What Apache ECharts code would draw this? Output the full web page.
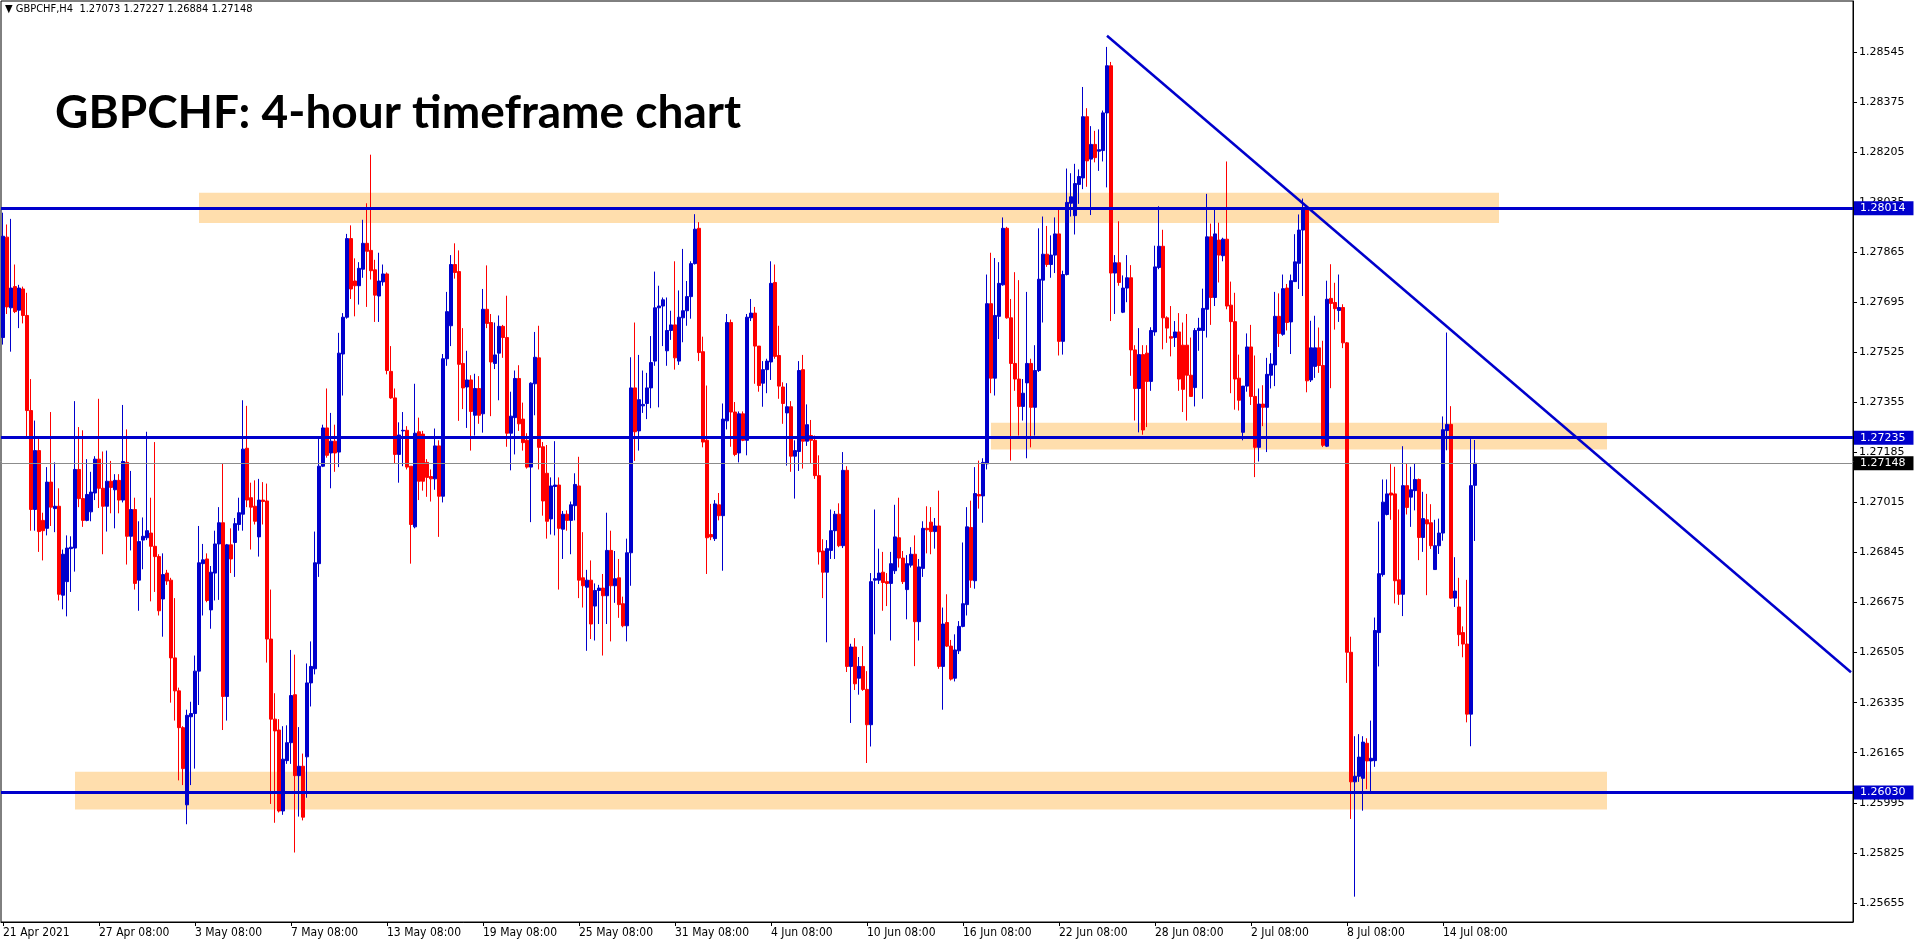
<!DOCTYPE html>
<html><head><meta charset="utf-8">
<script src="https://cdn.jsdelivr.net/npm/echarts@6/dist/echarts.min.js"></script>
<style>html,body{margin:0;padding:0;background:#fff;overflow:hidden}#c{width:1916px;height:946px}</style>
</head><body><div id="c"></div>
<script>
const opens = [
1.27575,1.27916,1.27676,1.27748,1.27668,1.2774,1.2765,1.27327,1.26991,1.27191,
1.26954,1.26927,1.27084,1.26994,1.27002,1.267,1.26746,1.26858,1.2686,1.27127,
1.27028,1.26954,1.26983,1.27047,1.27162,1.27063,1.27002,1.27087,1.27058,1.2709,
1.27023,1.27151,1.269,1.26991,1.26751,1.26887,1.26895,1.26911,1.26866,1.26831,
1.26687,1.26775,1.26751,1.26487,1.26375,1.2625,1.25988,1.26287,1.26298,1.26442,
1.26807,1.26823,1.2665,1.26775,1.26874,1.26946,1.26356,1.26871,1.26879,1.2694,
1.26975,1.27199,1.27031,1.27002,1.26898,1.27023,1.2702,1.26551,1.26279,1.26242,
1.25967,1.26138,1.26199,1.26362,1.26087,1.26119,1.26151,1.26402,1.2645,1.26807,
1.27138,1.27268,1.27183,1.27223,1.27186,1.27519,1.27644,1.27911,1.27767,1.27751,
1.27807,1.27895,1.27871,1.27805,1.27716,1.27764,1.27791,1.2746,1.2737,1.27178,
1.27258,1.2726,1.27138,1.26932,1.27255,1.27247,1.27151,1.27103,1.27095,1.27207,
1.27036,1.27503,1.27615,1.27823,1.27799,1.27487,1.27407,1.27431,1.27311,1.27402,
1.27316,1.27671,1.27626,1.27487,1.27522,1.27613,1.27575,1.2725,1.27303,1.27436,
1.27298,1.27226,1.27135,1.27418,1.27506,1.27204,1.27114,1.26959,1.27069,1.27074,
1.26924,1.26975,1.26954,1.27004,1.27071,1.26759,1.26727,1.26751,1.26663,1.26716,
1.26724,1.26698,1.26852,1.26732,1.26759,1.26671,1.26596,1.26844,1.27404,1.27258,
1.27343,1.27351,1.27404,1.27495,1.27676,1.27682,1.2753,1.27599,1.27618,1.27495,
1.27642,1.27666,1.27714,1.27826,1.27946,1.27527,1.27226,1.26906,1.26892,1.27007,
1.2697,1.27292,1.27626,1.27322,1.27183,1.27316,1.27226,1.27642,1.27658,1.27546,
1.2742,1.27466,1.27492,1.27762,1.27514,1.27407,1.27319,1.2734,1.27172,1.27188,
1.27466,1.27223,1.27242,1.27226,1.27106,1.2685,1.26778,1.26852,1.26919,1.26975,
1.26868,1.27124,1.26458,1.26524,1.26418,1.26458,1.2638,1.2626,1.26751,1.26751,
1.26778,1.26746,1.2674,1.26783,1.26895,1.26826,1.26719,1.26802,1.26839,1.2661,
1.26791,1.26927,1.26948,1.26916,1.26935,1.26458,1.26607,1.26527,1.26418,1.26511,
1.26594,1.26668,1.2693,1.26749,1.27042,1.27037,1.27146,1.2769,1.27437,1.27647,
1.27754,1.27946,1.27642,1.27487,1.27434,1.27341,1.27421,1.27487,1.27338,1.27463,
1.2777,1.27858,1.27823,1.27855,1.27927,1.27562,1.27789,1.28031,1.27989,1.28095,
1.28117,1.28325,1.28181,1.28231,1.28208,1.2821,1.28338,1.28498,1.27794,1.27829,
1.27661,1.27743,1.27778,1.27533,1.27402,1.27517,1.27522,1.27426,1.27594,1.27813,
1.27885,1.27642,1.27578,1.27575,1.27594,1.27549,1.27549,1.27447,1.27405,1.27599,
1.27599,1.27671,1.27917,1.27711,1.27906,1.27853,1.27909,1.27685,1.27629,1.27437,
1.27253,1.2741,1.27543,1.27375,1.27202,1.27349,1.27338,1.27447,1.27482,1.27647,
1.27586,1.27743,1.27628,1.27765,1.27827,1.2794,1.28011,1.27431,1.27477,1.2754,
1.2748,1.27206,1.27708,1.27694,1.27667,1.27677,1.27557,1.26506,1.26066,1.26085,
1.26078,1.26197,1.26137,1.26138,1.26573,1.2677,1.26974,1.27047,1.27044,1.26752,
1.26703,1.27072,1.27033,1.27055,1.27093,1.26896,1.26956,1.26946,1.26787,1.26868,
1.26911,1.27259,1.2728,1.2669,1.2666,1.26573,1.26534,1.26296,1.27073];
const closes = [
1.27919,1.27679,1.27743,1.27663,1.27743,1.2765,1.27327,1.26991,1.27191,1.26916,
1.26919,1.27084,1.26999,1.27002,1.26703,1.26839,1.2686,1.26863,1.27127,1.27028,
1.26954,1.27042,1.2705,1.27162,1.27063,1.27002,1.27087,1.27066,1.2709,1.27023,
1.27154,1.269,1.26991,1.2674,1.26882,1.269,1.26919,1.26866,1.26831,1.26647,
1.2677,1.26748,1.26487,1.26375,1.2625,1.26111,1.26292,1.26298,1.26442,1.2681,
1.2682,1.26682,1.26778,1.26874,1.26946,1.26356,1.26871,1.26823,1.26943,1.2698,
1.27196,1.27023,1.26999,1.26951,1.27023,1.27018,1.26551,1.26279,1.26239,1.25967,
1.26143,1.26199,1.26359,1.26087,1.26119,1.25946,1.26402,1.26458,1.2681,1.27138,
1.27268,1.27175,1.27223,1.27183,1.27522,1.27644,1.27911,1.2774,1.27751,1.2781,
1.27895,1.27868,1.27802,1.27719,1.27767,1.27791,1.27463,1.2737,1.27178,1.27244,
1.2726,1.27135,1.2694,1.2725,1.27087,1.27087,1.271,1.27095,1.27207,1.27036,
1.27503,1.27663,1.27823,1.27796,1.27484,1.27404,1.27431,1.27324,1.27402,1.27311,
1.27671,1.27623,1.27492,1.27516,1.27613,1.27575,1.2725,1.27308,1.27436,1.27282,
1.27218,1.27135,1.2742,1.27508,1.27202,1.2702,1.26951,1.27071,1.27074,1.26927,
1.26975,1.26954,1.27007,1.27076,1.26751,1.26732,1.26751,1.26602,1.26716,1.26724,
1.26698,1.26852,1.26732,1.26756,1.26668,1.26596,1.26844,1.27404,1.27255,1.27364,
1.27348,1.27404,1.2749,1.27676,1.27682,1.27703,1.27599,1.27618,1.27506,1.27644,
1.27666,1.27714,1.27826,1.27943,1.27524,1.2722,1.26895,1.26898,1.2701,1.2697,
1.27298,1.27626,1.27322,1.27178,1.27316,1.27226,1.27644,1.27658,1.27546,1.27412,
1.27466,1.27495,1.27759,1.27511,1.2741,1.27351,1.2734,1.27172,1.27191,1.27463,
1.27223,1.27279,1.27226,1.27106,1.26847,1.26778,1.26858,1.26919,1.26975,1.26868,
1.27124,1.26458,1.26524,1.26399,1.26458,1.2638,1.2626,1.26746,1.26756,1.26775,
1.26743,1.2674,1.26807,1.26898,1.26826,1.26746,1.26807,1.26839,1.2661,1.26796,
1.26927,1.26922,1.26916,1.26935,1.26458,1.26602,1.26527,1.26415,1.26514,1.26594,
1.26671,1.26932,1.26751,1.27045,1.27037,1.27151,1.2769,1.27437,1.2765,1.27759,
1.27946,1.27642,1.27487,1.27434,1.27341,1.27386,1.27487,1.27338,1.27463,1.27773,
1.27858,1.27823,1.27855,1.27927,1.27562,1.27789,1.28034,1.28053,1.28098,1.28122,
1.28325,1.28175,1.28231,1.28186,1.28213,1.28338,1.28498,1.27794,1.27829,1.27762,
1.27743,1.27778,1.27533,1.27402,1.27517,1.27261,1.27426,1.27599,1.27815,1.27885,
1.27642,1.27607,1.27573,1.27594,1.27434,1.27399,1.27447,1.27375,1.27599,1.27607,
1.27674,1.27917,1.27711,1.27927,1.27855,1.27909,1.27682,1.27629,1.27434,1.27362,
1.2741,1.27543,1.27375,1.27202,1.27349,1.27338,1.2745,1.27485,1.27647,1.27589,
1.27741,1.27626,1.27768,1.27832,1.2794,1.28014,1.27428,1.2754,1.2754,1.2748,
1.27209,1.27705,1.27691,1.27673,1.27677,1.27557,1.26506,1.26066,1.26085,1.2615,
1.26201,1.26137,1.26146,1.2658,1.26773,1.27016,1.27044,1.2704,1.26749,1.26703,
1.27072,1.26998,1.27058,1.27093,1.26896,1.2696,1.26942,1.26868,1.26868,1.26911,
1.27262,1.2728,1.2669,1.26714,1.26566,1.26534,1.26296,1.27072,1.27148];
const lows = [
1.27551,1.27655,1.27527,1.27658,1.27607,1.27623,1.27239,1.26919,1.26919,1.26847,
1.26818,1.26903,1.26935,1.26914,1.26682,1.26652,1.26628,1.26711,1.2678,1.26999,
1.26932,1.26951,1.26951,1.27023,1.26996,1.26839,1.26916,1.26978,1.26927,1.26978,
1.27015,1.26804,1.26852,1.26719,1.26647,1.26788,1.26887,1.26679,1.26711,1.26631,
1.26559,1.26735,1.26335,1.26274,1.26071,1.26055,1.25922,1.26055,1.26111,1.26327,
1.26631,1.26676,1.26586,1.26682,1.26684,1.26242,1.26274,1.26775,1.26762,1.26919,
1.26919,1.26999,1.26855,1.2694,1.26831,1.2694,1.26471,1.25991,1.25927,1.25962,
1.25954,1.26127,1.26127,1.25826,1.25948,1.25935,1.26012,1.26322,1.26431,1.26762,
1.27135,1.27167,1.27063,1.27119,1.27135,1.27378,1.27639,1.27706,1.27647,1.27687,
1.27778,1.27679,1.27772,1.27628,1.27628,1.27751,1.2745,1.27367,1.27148,1.27082,
1.27138,1.27127,1.26807,1.26927,1.27023,1.27055,1.27034,1.27018,1.27058,1.26898,
1.27015,1.27479,1.27546,1.27775,1.27292,1.27332,1.27268,1.27191,1.27242,1.27282,
1.27252,1.27607,1.27308,1.27468,1.27362,1.27506,1.27204,1.27124,1.27178,1.27258,
1.27191,1.2713,1.26948,1.27311,1.27127,1.2697,1.26892,1.26906,1.26903,1.26719,
1.26823,1.26919,1.26839,1.26954,1.2669,1.26658,1.26511,1.26551,1.26546,1.26602,
1.26495,1.26602,1.26543,1.26674,1.26623,1.26591,1.26543,1.26732,1.27156,1.27191,
1.27319,1.27298,1.27335,1.27479,1.27338,1.27546,1.27479,1.27567,1.27466,1.27482,
1.27559,1.27615,1.27639,1.27823,1.27495,1.27202,1.26772,1.26887,1.26884,1.26954,
1.26783,1.27263,1.27204,1.27172,1.27151,1.27223,1.27175,1.27631,1.27418,1.27391,
1.2734,1.27386,1.27431,1.27503,1.27367,1.27282,1.2714,1.27119,1.27028,1.27122,
1.2713,1.27207,1.27148,1.27095,1.26804,1.2669,1.2654,1.26823,1.26823,1.26863,
1.2686,1.26439,1.26266,1.26378,1.26362,1.26375,1.2613,1.26186,1.26567,1.26738,
1.26647,1.26663,1.26546,1.26772,1.26794,1.26738,1.26618,1.26794,1.26459,1.26546,
1.26762,1.26842,1.26839,1.26858,1.2645,1.26311,1.26524,1.2641,1.26407,1.265,
1.26591,1.26631,1.26725,1.26722,1.26994,1.26946,1.27127,1.27386,1.27378,1.2757,
1.27751,1.27639,1.27157,1.27394,1.27242,1.27293,1.27165,1.27202,1.27242,1.27458,
1.27626,1.27815,1.27778,1.27794,1.27514,1.27517,1.27786,1.27986,1.27925,1.28029,
1.28079,1.28087,1.27991,1.2817,1.28141,1.28173,1.28085,1.27631,1.27655,1.27751,
1.27658,1.27695,1.27445,1.27293,1.27253,1.27245,1.27271,1.27394,1.27581,1.27807,
1.27535,1.27557,1.27511,1.27543,1.27394,1.27322,1.27293,1.27375,1.27341,1.2753,
1.27367,1.27575,1.27618,1.27682,1.27762,1.27834,1.27671,1.27386,1.2733,1.27327,
1.27226,1.27391,1.27346,1.27101,1.27154,1.27274,1.27186,1.27402,1.2741,1.27543,
1.27581,1.27599,1.27519,1.27764,1.2774,1.27716,1.27389,1.27424,1.27438,1.27455,
1.27203,1.27203,1.27403,1.27602,1.27628,1.27539,1.26402,1.2594,1.25676,1.26066,
1.25968,1.26041,1.26035,1.26117,1.26458,1.26763,1.26971,1.26956,1.26672,1.26667,
1.26629,1.26974,1.26932,1.26988,1.26819,1.26847,1.267,1.26857,1.26787,1.2684,
1.26885,1.27192,1.26688,1.2666,1.26527,1.26489,1.26268,1.26187,1.26884];
const highs = [
1.27999,1.27959,1.27978,1.27823,1.27754,1.27748,1.27727,1.27434,1.27293,1.27231,
1.2698,1.27135,1.27322,1.27151,1.27063,1.26855,1.26903,1.269,1.27359,1.27271,
1.2726,1.27162,1.27119,1.27172,1.27367,1.27188,1.27191,1.27156,1.27111,1.27111,
1.27346,1.27263,1.27122,1.27031,1.26951,1.26964,1.27255,1.27031,1.2722,1.26839,
1.26842,1.26786,1.26759,1.2669,1.26386,1.26255,1.26311,1.26338,1.26495,1.26935,
1.26874,1.26842,1.26799,1.26919,1.26999,1.27148,1.26874,1.26927,1.26962,1.27031,
1.27362,1.27343,1.27082,1.2709,1.27095,1.27084,1.27079,1.26719,1.26367,1.26279,
1.26255,1.26258,1.26514,1.26498,1.26252,1.26162,1.26468,1.26543,1.26916,1.27231,
1.27279,1.27402,1.27319,1.27279,1.27591,1.27658,1.27927,1.27956,1.27844,1.27831,
1.27975,1.28031,1.28196,1.27839,1.27863,1.27823,1.27796,1.27546,1.27402,1.27287,
1.27322,1.27274,1.27138,1.27418,1.27303,1.27258,1.27162,1.27127,1.27266,1.27226,
1.27519,1.2773,1.27855,1.27895,1.27871,1.27607,1.2753,1.27447,1.27452,1.27444,
1.2774,1.2782,1.27655,1.27626,1.2765,1.27618,1.27717,1.27391,1.27463,1.27481,
1.27354,1.2725,1.27423,1.27594,1.27615,1.2722,1.2721,1.271,1.27223,1.271,
1.26986,1.26988,1.27018,1.27114,1.2717,1.26914,1.26786,1.26818,1.2674,1.26735,
1.26772,1.2698,1.26919,1.2685,1.26823,1.26695,1.26892,1.27508,1.27626,1.27516,
1.27463,1.27455,1.2758,1.27799,1.27751,1.27711,1.27711,1.27666,1.27834,1.27735,
1.27876,1.27767,1.27834,1.27994,1.27967,1.27578,1.27412,1.2701,1.27023,1.27047,
1.27351,1.27655,1.27636,1.27356,1.27324,1.27324,1.27655,1.27706,1.27679,1.27546,
1.27495,1.27503,1.27834,1.27823,1.27615,1.27423,1.2742,1.27359,1.27226,1.27495,
1.27516,1.27348,1.27295,1.27242,1.27175,1.2689,1.26887,1.26991,1.26986,1.27012,
1.27186,1.27138,1.26535,1.26554,1.2649,1.26527,1.26442,1.26775,1.26991,1.26858,
1.26847,1.26775,1.26847,1.27007,1.27031,1.2685,1.26836,1.26863,1.26903,1.26823,
1.26951,1.27002,1.26999,1.26962,1.27055,1.26658,1.26703,1.26548,1.26567,1.26612,
1.26879,1.26999,1.27021,1.27135,1.27157,1.27165,1.27789,1.27863,1.27845,1.27831,
1.27983,1.27951,1.27706,1.27797,1.2777,1.27434,1.2773,1.27503,1.27549,1.27946,
1.27986,1.27954,1.27922,1.27983,1.2801,1.27802,1.28149,1.28133,1.28165,1.28146,
1.28426,1.28354,1.28293,1.28277,1.28282,1.28346,1.28562,1.28511,1.27855,1.2797,
1.27786,1.27855,1.27821,1.27549,1.27607,1.27549,1.27549,1.2761,1.27887,1.28021,
1.27941,1.27647,1.27682,1.27631,1.27658,1.27626,1.27655,1.27575,1.27607,1.27642,
1.27741,1.28063,1.27962,1.2801,1.27965,1.27914,1.28173,1.27765,1.27727,1.27517,
1.2741,1.27589,1.27618,1.27514,1.27402,1.27413,1.27506,1.27522,1.2773,1.27725,
1.27789,1.27757,1.27789,1.27926,1.27993,1.28047,1.28017,1.27632,1.27649,1.27609,
1.27564,1.27768,1.27824,1.27761,1.27789,1.27688,1.2756,1.26559,1.26221,1.26228,
1.26221,1.26214,1.26274,1.26624,1.2695,1.27093,1.27093,1.27145,1.27136,1.26991,
1.27206,1.27147,1.27136,1.27147,1.27096,1.27051,1.27044,1.27009,1.26956,1.2696,
1.27307,1.27592,1.27342,1.26829,1.26759,1.26594,1.26752,1.2723,1.27227];

const tickLabels = ['21 Apr 2021','27 Apr 08:00','3 May 08:00','7 May 08:00','13 May 08:00','19 May 08:00','25 May 08:00','31 May 08:00','4 Jun 08:00','10 Jun 08:00','16 Jun 08:00','22 Jun 08:00','28 Jun 08:00','2 Jul 08:00','8 Jul 08:00','14 Jul 08:00'];
const barsPerLabel = 24;
const priceTicks = [1.25655,1.25825,1.25995,1.26165,1.26335,1.26505,1.26675,1.26845,1.27015,1.27185,1.27355,1.27525,1.27695,1.27865,1.28035,1.28205,1.28375,1.28545];
const levelPrices = [1.28014, 1.27235, 1.26030];
const bidPrice = 1.27148;
const zoneStart = [49, 247, 18];
const zoneEnd = [374, 401, 401];
const zoneTop = [1.28067, 1.27286, 1.26100];
const zoneBottom = [1.27964, 1.27195, 1.25972];
const trendFrom = [276, 1.28600];
const trendTo = [462, 1.26438];
const slotCount = 463;
const headerText = '\u25BC GBPCHF,H4  1.27073 1.27227 1.26884 1.27148';
const titleText = 'GBPCHF: 4-hour timeframe chart';

const BLUE = '#0000CC', RED = '#FF0000';
const categories = [];
for (let i = 0; i < slotCount; i++) categories.push(String(i));
const candles = opens.map((o, i) => [o, closes[i], lows[i], highs[i]]);
const isLabel = (idx) => idx % barsPerLabel === 0 && idx / barsPerLabel < tickLabels.length;

const chart = echarts.init(document.getElementById('c'), null, {renderer: 'canvas'});
chart.setOption({
  animation: false,
  backgroundColor: '#ffffff',
  grid: {left: 1, top: 1, width: 1852, bottom: 24, show: true, borderColor: '#000', borderWidth: 1, backgroundColor: 'transparent'},
  xAxis: {
    type: 'category', data: categories, boundaryGap: true,
    axisLine: {show: true, lineStyle: {color: '#000', width: 1}},
    axisTick: {show: true, alignWithLabel: true, length: 4, interval: (idx) => isLabel(idx), lineStyle: {color: '#000'}},
    axisLabel: {show: true, interval: (idx) => isLabel(idx), formatter: (v, idx) => tickLabels[idx / barsPerLabel] || '',
      align: 'left', margin: 5, color: '#000', fontFamily: 'DejaVu Sans Condensed', fontSize: 12},
    splitLine: {show: false}
  },
  yAxis: {
    type: 'value', position: 'right', min: 1.25590, max: 1.28718,
    axisLine: {show: true, lineStyle: {color: '#000', width: 1}},
    axisTick: {show: true, length: 4, customValues: priceTicks, lineStyle: {color: '#000'}},
    axisLabel: {show: true, customValues: priceTicks, formatter: (v) => v.toFixed(5), margin: 6,
      color: '#000', fontFamily: 'DejaVu Sans', fontSize: 11},
    splitLine: {show: false}
  },
  graphic: [
    {type: 'text', left: 5, top: 4, z: 100, style: {text: headerText, fill: '#000', font: '11px "DejaVu Sans Condensed"'}},
    {type: 'text', left: 55, top: 90, z: 100, style: {text: titleText, fill: '#000', font: 'bold 46px Lato'}}
  ],
  series: [
    {
      type: 'line', data: [], silent: true, z: 1,
      markArea: {
        silent: true, itemStyle: {color: '#FFDEAD', opacity: 1, borderWidth: 0},
        data: zoneStart.map((s, k) => [{coord: [s, zoneTop[k]]}, {coord: [zoneEnd[k], zoneBottom[k]]}])
      }
    },
    {
      type: 'candlestick', name: 'GBPCHF', data: candles, barWidth: 3, z: 2,
      itemStyle: {color: BLUE, color0: RED, borderColor: BLUE, borderColor0: RED, borderWidth: 1}
    },
    {
      type: 'line', data: [], silent: true, z: 3,
      markLine: {
        silent: true, symbol: ['none', 'none'], animation: false, precision: 5,
        data: [
          ...levelPrices.map(p => ({yAxis: p, lineStyle: {color: BLUE, width: 3, type: 'solid'},
            label: {show: true, position: 'end', distance: 1, formatter: p.toFixed(5), color: '#fff', backgroundColor: BLUE,
              padding: [2, 8, 1, 6], fontFamily: 'DejaVu Sans', fontSize: 11}})),
          {yAxis: bidPrice, lineStyle: {color: '#8c8c8c', width: 1, type: 'solid'},
            label: {show: true, position: 'end', distance: 1, formatter: bidPrice.toFixed(5), color: '#fff', backgroundColor: '#000',
              padding: [2, 8, 1, 6], fontFamily: 'DejaVu Sans', fontSize: 11}},
          [{coord: trendFrom, lineStyle: {color: BLUE, width: 2.5, type: 'solid'}, label: {show: false}}, {coord: trendTo}]
        ]
      }
    }
  ]
});
</script>
</body></html>
